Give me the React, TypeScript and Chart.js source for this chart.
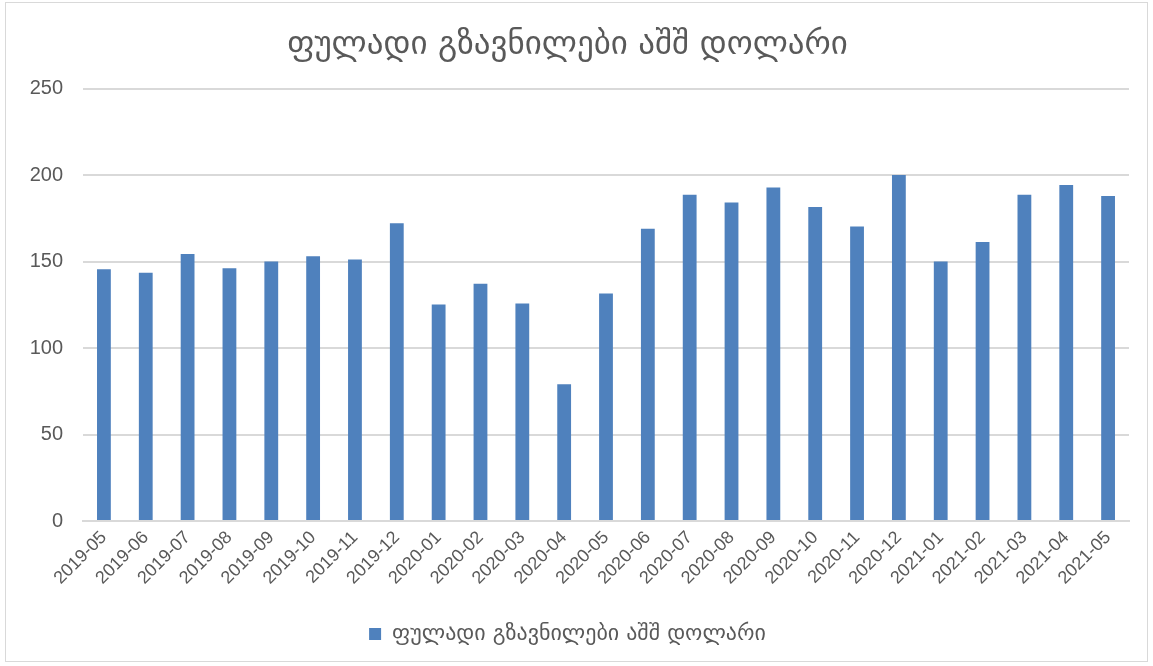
import React, { useEffect, useRef } from "react";
import { Chart, registerables } from "chart.js";

Chart.register(...registerables);

const TITLE = "ფულადი გზავნილები აშშ დოლარი";
const SERIES_NAME = "ფულადი გზავნილები აშშ დოლარი";
const categories = [
  "2019-05", "2019-06", "2019-07", "2019-08", "2019-09", "2019-10", "2019-11", "2019-12",
  "2020-01", "2020-02", "2020-03", "2020-04", "2020-05", "2020-06", "2020-07", "2020-08",
  "2020-09", "2020-10", "2020-11", "2020-12", "2021-01", "2021-02", "2021-03", "2021-04", "2021-05",
];
const values = [
  145.6, 143.6, 154.3, 146.2, 150.0, 153.1, 151.2, 172.1,
  125.2, 137.2, 125.8, 79.0, 131.6, 168.9, 188.6, 184.1,
  192.8, 181.6, 170.2, 200.0, 150.0, 161.3, 188.6, 194.2, 187.9,
];
const yTicks = [0, 50, 100, 150, 200, 250];

const GREY = "#595959";
const GRID = "#d9d9d9";
const BLUE = "#4f81bd";

export default function App() {
  const ref = useRef<HTMLCanvasElement>(null);
  useEffect(() => {
    if (!ref.current) return;
    const chart = new Chart(ref.current, {
      type: "bar",
      data: {
        labels: categories,
        datasets: [
          {
            label: SERIES_NAME,
            data: values,
            backgroundColor: BLUE,
            borderWidth: 0,
            categoryPercentage: 0.66,
            barPercentage: 0.5,
          },
        ],
      },
      options: {
        responsive: false,
        animation: false,
        layout: { padding: { left: 0, right: 18, top: 0, bottom: 6 } },
        plugins: {
          title: {
            display: true,
            text: TITLE,
            color: GREY,
            font: { family: "DejaVu Sans", size: 33, weight: "normal" },
            padding: { top: 23, bottom: 23 },
          },
          legend: {
            position: "bottom",
            labels: {
              color: GREY,
              font: { family: "DejaVu Sans", size: 22 },
              boxWidth: 12,
              boxHeight: 12,
              padding: 8,
            },
          },
          tooltip: { enabled: false },
        },
        scales: {
          x: {
            grid: { display: false, drawTicks: false },
            border: { display: true, color: GRID, width: 2 },
            ticks: {
              color: GREY,
              font: { family: "Liberation Sans", size: 18 },
              minRotation: 45,
              maxRotation: 45,
              padding: 6,
              autoSkip: false,
            },
            afterFit: (s: any) => {
              s.height = 94;
            },
          },
          y: {
            min: 0,
            max: 250,
            afterBuildTicks: (s: any) => {
              s.ticks = yTicks.map((v) => ({ value: v }));
            },
            grid: { color: GRID, lineWidth: 2, drawTicks: false },
            border: { display: false },
            ticks: {
              color: GREY,
              font: { family: "Liberation Sans", size: 20 },
              padding: 20,
            },
            afterFit: (s: any) => {
              s.width = 77;
            },
          },
        },
      },
    });
    return () => chart.destroy();
  }, []);
  return (
    <div
      style={{
        position: "fixed",
        left: 5,
        top: 2,
        width: 1143,
        height: 660,
        border: "1px solid #d9d9d9",
        boxSizing: "border-box",
        background: "#fff",
      }}
    >
      <canvas ref={ref} width={1141} height={658} style={{ display: "block" }} />
    </div>
  );
}
